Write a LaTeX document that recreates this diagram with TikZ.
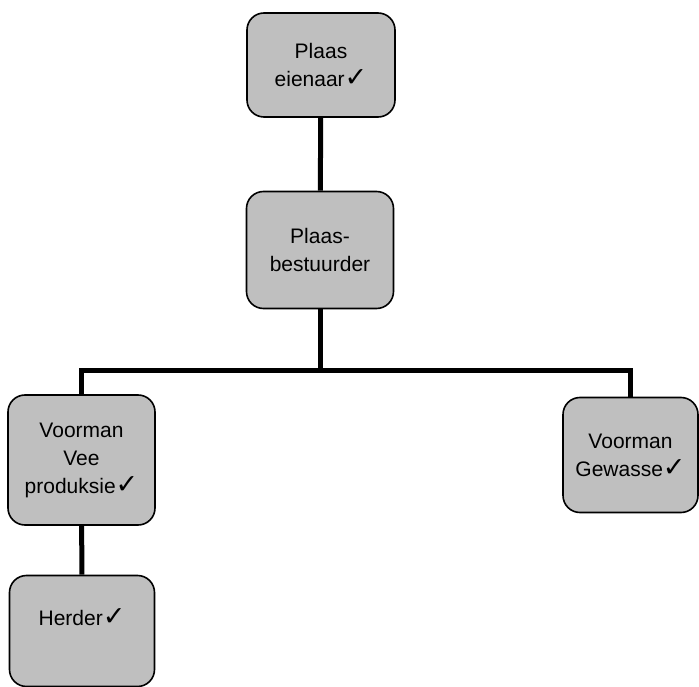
\documentclass[tikz,border=0pt]{standalone}
\usepackage{fontspec}
\setmainfont{Liberation Sans}
\newfontfamily\symfont{DejaVu Sans}
\newcommand{\chk}{{\symfont\fontsize{27}{27}\selectfont ✓}}
\begin{document}
\begin{tikzpicture}[x=1pt,y=1pt,
  box/.style={draw=black, line width=1.6pt, rounded corners=17pt, fill=black!25,
    inner sep=0pt, align=center, font=\fontsize{21}{28}\selectfont},
  conn/.style={line width=5pt, line join=miter}]
\useasboundingbox (0,0) rectangle (699,-687);
\node[box, minimum width=148, minimum height=104] (own) at (321,-65) {Plaas\\eienaar\chk};
\node[box, minimum width=147, minimum height=117] (mgr) at (320,-250) {Plaas-\\bestuurder};
\node[box, minimum width=147, minimum height=130] (vee) at (81.5,-460) {Voorman\\Vee\\produksie\chk};
\node[box, minimum width=135, minimum height=115] (gew) at (630.5,-455) {Voorman\\Gewasse\chk};
\node[box, minimum width=145, minimum height=111, text depth=28pt] (her) at (82,-631) {Herder\chk};
\coordinate (j) at (320,-370);
\draw[conn] (own) -- (mgr);
\draw[conn] (mgr) -- (j);
\draw[conn] (j) -| (vee);
\draw[conn] (j) -| (gew);
\draw[conn] (vee) -- (her);
\end{tikzpicture}
\end{document}
